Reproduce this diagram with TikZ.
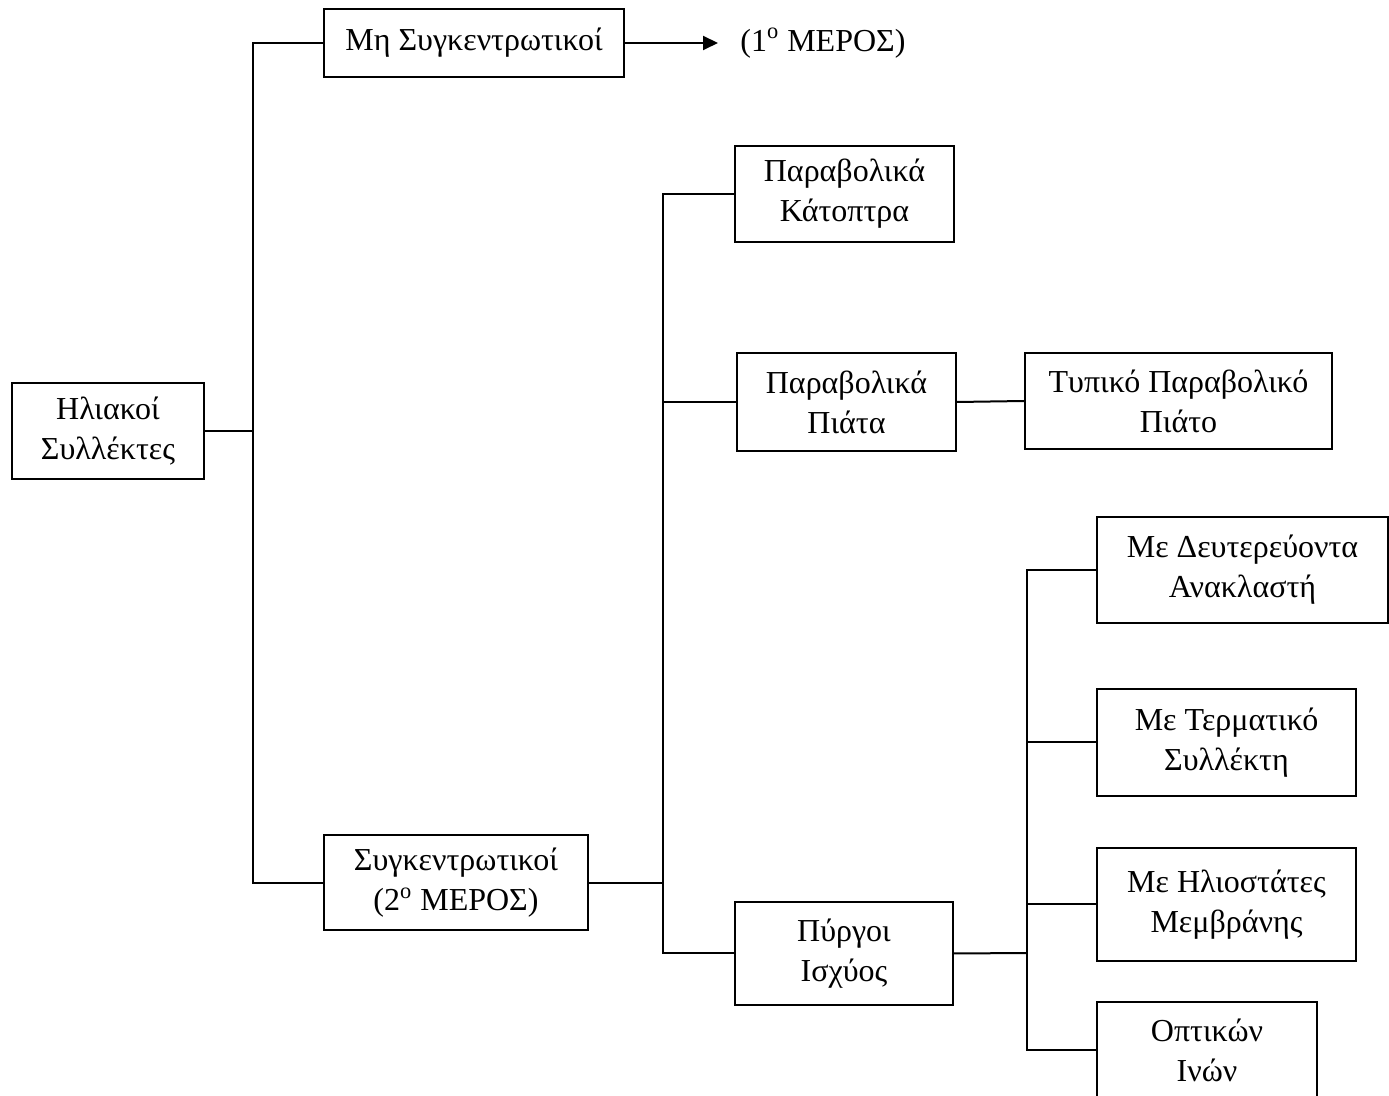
\documentclass[tikz,border=0pt]{standalone}
\usepackage{fontspec}
\setmainfont{Liberation Serif}
\usepackage{tikz}
\usetikzlibrary{arrows.meta}

\tikzset{
  box/.style={draw, line width=1pt, inner sep=0pt, align=center,
    font=\fontsize{16}{20}\selectfont},
  link/.style={line width=1pt},
}

\begin{document}
\begin{tikzpicture}[x=0.5pt,y=0.5pt,yscale=-1,xscale=1]
\clip (0,0) rectangle (1389,1096);

% Boxes
\node[box, minimum width=96pt, minimum height=48pt] (iliakoi) at (108,431) {Ηλιακοί\\Συλλέκτες};
\node[box, minimum width=150pt, minimum height=34pt] (mhsyg) at (474,43) {Μη Συγκεντρωτικοί};
\node[box, minimum width=132pt, minimum height=47.5pt] (syg) at (456,883) {Συγκεντρωτικοί\\(2\textsuperscript{ο} ΜΕΡΟΣ)};
\node[box, minimum width=109.5pt, minimum height=48pt] (katoptra) at (844.5,194) {Παραβολικά\\Κάτοπτρα};
\node[box, minimum width=109.5pt, minimum height=49pt] (piata) at (846.5,402) {Παραβολικά\\Πιάτα};
\node[box, minimum width=153.5pt, minimum height=48pt] (typiko) at (1178.5,401) {Τυπικό Παραβολικό\\Πιάτο};
\node[box, minimum width=109pt, minimum height=51.5pt] (pyrgoi) at (844,953.5) {Πύργοι\\Ισχύος};
\node[box, minimum width=145.5pt, minimum height=53pt] (deyt) at (1242.5,570) {Με Δευτερεύοντα\\Ανακλαστή};
\node[box, minimum width=129.5pt, minimum height=53.5pt] (term) at (1226.5,742.5) {Με Τερματικό\\Συλλέκτη};
\node[box, minimum width=129.5pt, minimum height=56.5pt] (ilio) at (1226.5,904.5) {Με Ηλιοστάτες\\Μεμβράνης};
\node[box, minimum width=110pt, minimum height=48pt] (optikon) at (1207,1050) {Οπτικών\\Ινών};

% Text Node
\node[anchor=west, inner xsep=11pt, inner ysep=0pt, font=\fontsize{16}{20}\selectfont] (meros1) at (718,43) {(1\textsuperscript{ο} ΜΕΡΟΣ)};

% Branch points
\coordinate (b1) at (253,431);
\coordinate (b2) at (663,883);
\coordinate (b3) at (1027,953);

% Connectors
\draw[link] (iliakoi.east) -- (b1);
\draw[link] (mhsyg.west) -| (b1) |- (syg.west);
\draw[link, -{Triangle[length=7.5pt,width=7pt]}] (mhsyg.east) -- (meros1.west);

\draw[link] (syg.east) -- (b2);
\draw[link] (katoptra.west) -| (b2) |- (pyrgoi.west);
\draw[link] (piata.west) -- (piata.west -| b2);
\draw[link] (piata.east) -- (typiko.west);

\draw[link] (pyrgoi.east) -- (b3);
\draw[link] (deyt.west) -| (b3) |- (optikon.west);
\draw[link] (term.west) -- (term.west -| b3);
\draw[link] (ilio.west) -- (ilio.west -| b3);
\end{tikzpicture}
\end{document}
